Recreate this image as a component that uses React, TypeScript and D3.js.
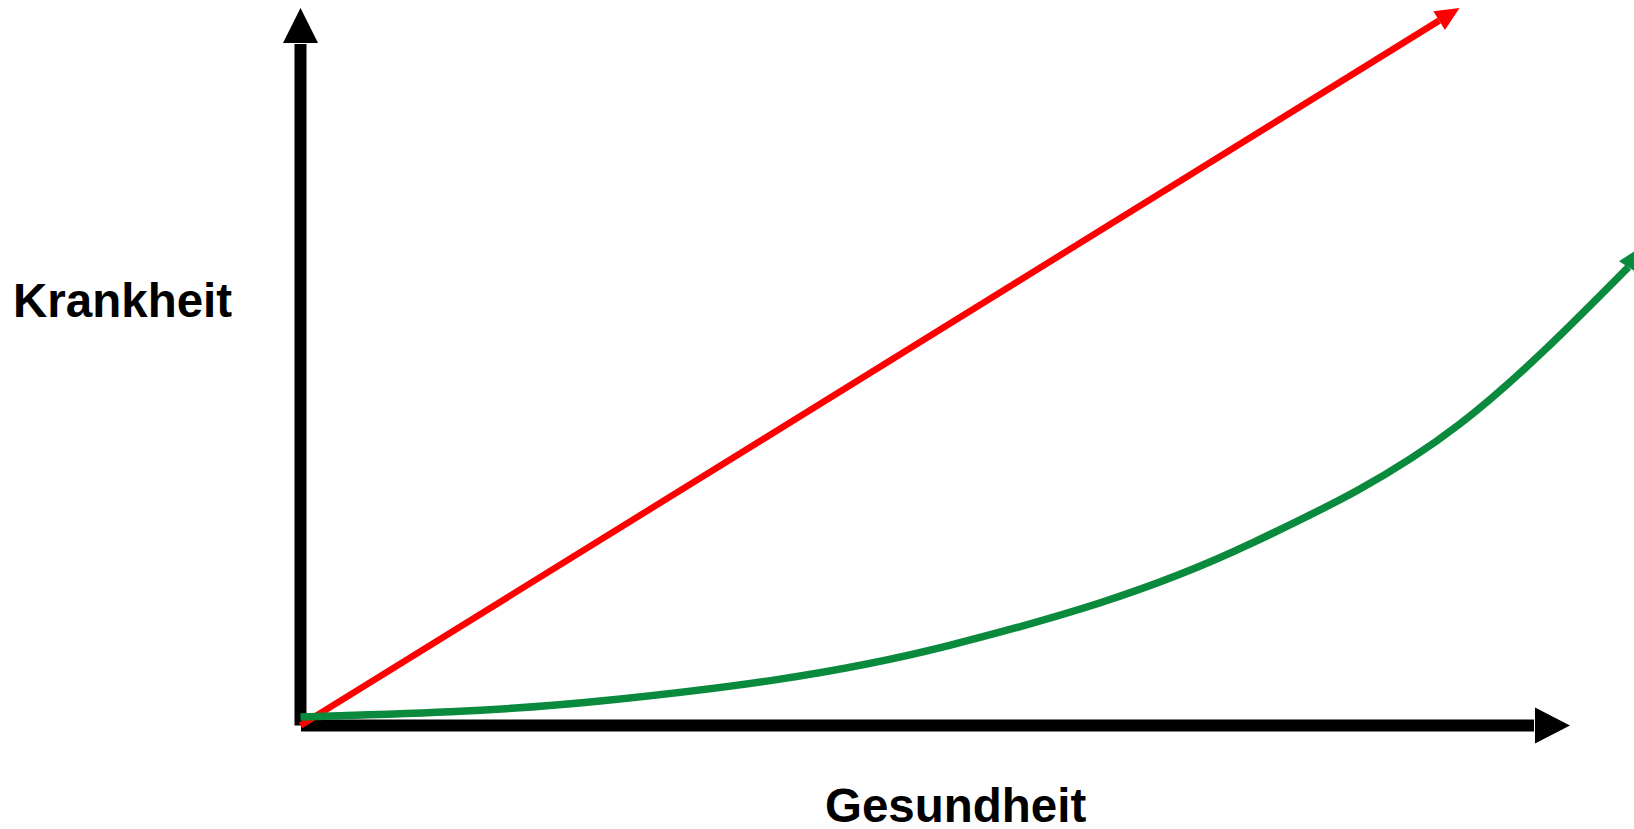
import { useMemo } from 'react'
import * as d3 from 'd3'

// Chart data (abstract units 0..100 on both axes)
const xLabel = 'Gesundheit'
const yLabel = 'Krankheit'

const redX = [0, 91.3]
const redY = [0, 100]

const greenX = [0, 23.6, 51.2, 74.8, 91.3, 104.6]
const greenY = [1.2, 3.4, 11.2, 25.3, 42.0, 63.9]
const greenTip = [105.6, 66.7]

const W = 1634
const H = 829

type Pt = [number, number]

// polygon for an arrow head ending at tip, coming from `from`
function arrowHead(from: Pt, tip: Pt, len: number, width: number) {
  const dx = tip[0] - from[0]
  const dy = tip[1] - from[1]
  const d = Math.hypot(dx, dy)
  const ux = dx / d
  const uy = dy / d
  const bx = tip[0] - ux * len
  const by = tip[1] - uy * len
  const px = -uy * width / 2
  const py = ux * width / 2
  const pts: Pt[] = [tip, [bx + px, by + py], [bx - px, by - py]]
  return { points: pts.map(p => p.join(',')).join(' '), base: [bx, by] as Pt }
}

export default function App() {
  const x = d3.scaleLinear().domain([0, 100]).range([300.5, 1570])
  const y = d3.scaleLinear().domain([0, 100]).range([725.5, 8])

  const green = useMemo(() => greenX.map((v, i) => [x(v), y(greenY[i])] as Pt), [])
  const greenPath = d3.line().curve(d3.curveMonotoneX)(green) || ''
  const gTip: Pt = [x(greenTip[0]), y(greenTip[1])]
  const gHead = arrowHead(green[green.length - 1], gTip, 24, 22)

  const redStart: Pt = [x(redX[0]), y(redY[0])]
  const redTip: Pt = [x(redX[1]), y(redY[1])]
  const rHead = arrowHead(redStart, redTip, 24, 22)

  // axes
  const origin: Pt = [x(0), y(0)]
  const yTop: Pt = [x(0), y(100)]
  const xEnd: Pt = [x(100), y(0)]
  const yHead = arrowHead(origin, yTop, 35, 35)
  const xHead = arrowHead(origin, xEnd, 35, 36)

  return (
    <svg
      width={W}
      height={H}
      style={{ position: 'absolute', left: 0, top: 0, background: '#fff' }}
      fontFamily="'Liberation Sans', Arial, sans-serif"
    >
      {/* axes */}
      <line x1={origin[0]} y1={origin[1]} x2={yHead.base[0]} y2={yHead.base[1] + 1} stroke="#000" strokeWidth={12} />
      <polygon points={yHead.points} fill="#000" />
      <line x1={origin[0] + 0.5} y1={origin[1]} x2={xHead.base[0] - 1} y2={xHead.base[1]} stroke="#000" strokeWidth={12} />
      <polygon points={xHead.points} fill="#000" />

      {/* red line */}
      <line x1={redStart[0]} y1={redStart[1]} x2={rHead.base[0]} y2={rHead.base[1]} stroke="#ff0000" strokeWidth={6.5} />
      <polygon points={rHead.points} fill="#ff0000" />

      {/* green curve */}
      <path d={greenPath} fill="none" stroke="#0a8a3c" strokeWidth={7.5} />
      <polygon points={gHead.points} fill="#0a8a3c" />

      {/* labels */}
      <text x={13} y={317} fontSize={47.5} fontWeight="bold" fill="#000">{yLabel}</text>
      <text x={825} y={822} fontSize={47.5} fontWeight="bold" fill="#000">{xLabel}</text>
    </svg>
  )
}
